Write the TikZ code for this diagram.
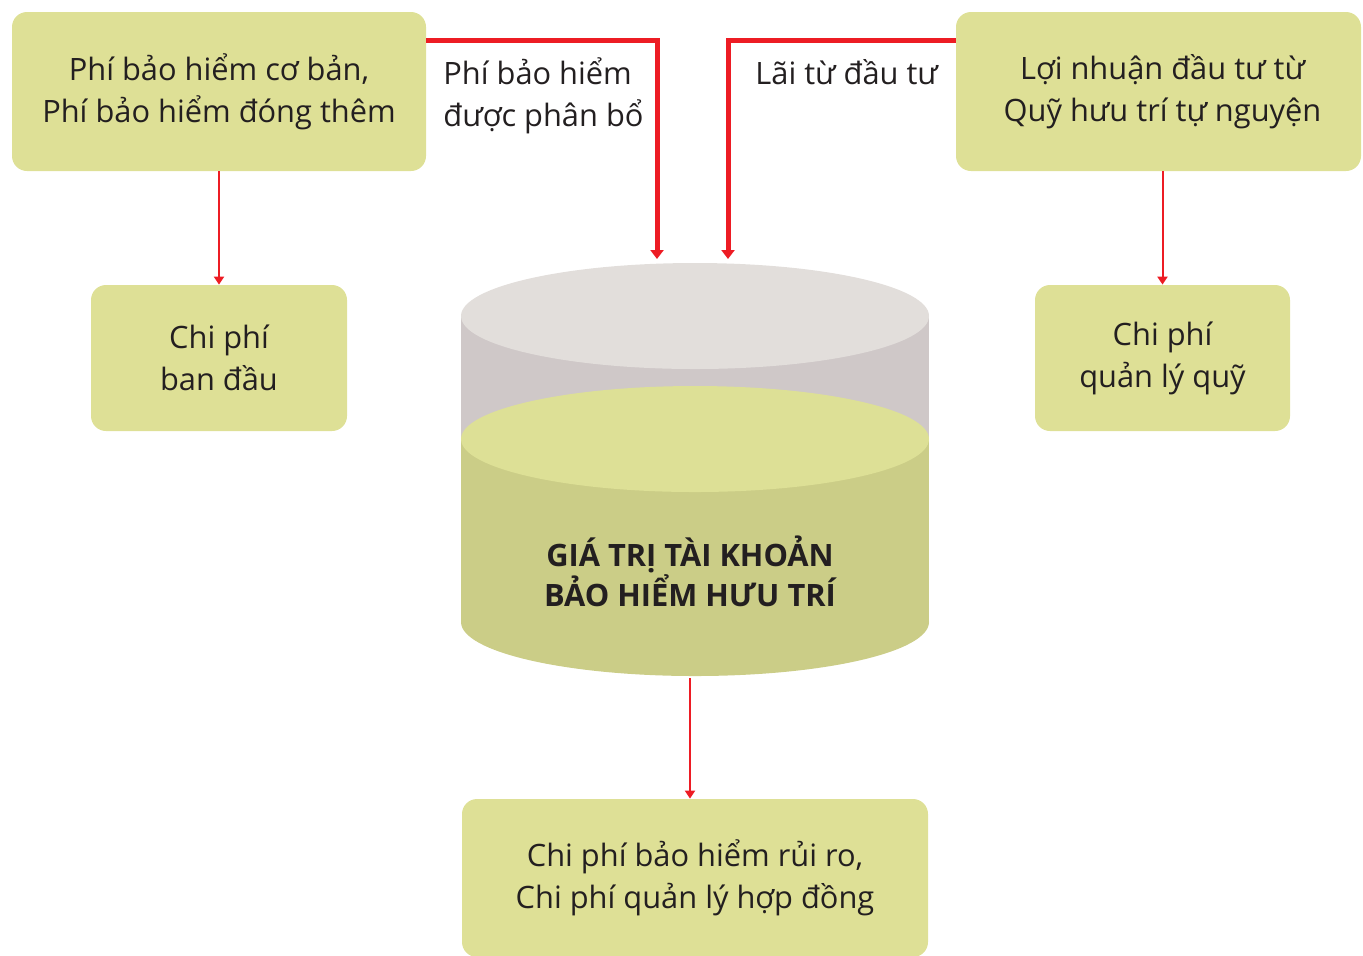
\documentclass[tikz,border=0pt]{standalone}
\usepackage{fontspec}
\setmainfont{Open Sans}
\usetikzlibrary{arrows.meta}
\definecolor{boxfill}{HTML}{DEE096}
\definecolor{txt}{HTML}{231F20}
\definecolor{redline}{HTML}{ED1C24}
\definecolor{graytop}{HTML}{E2DEDB}
\definecolor{graybody}{HTML}{CFC8C8}
\definecolor{greentop}{HTML}{DDE096}
\definecolor{greenbody}{HTML}{CBCD87}
\tikzset{
  box/.style={fill=boxfill, rounded corners=7.5pt, align=center, text=txt,
    font=\fontsize{15.4}{21}\selectfont, inner sep=0pt},
  lbl/.style={text=txt, font=\fontsize{15.4}{21}\selectfont, inner sep=0pt, anchor=base west},
  title/.style={text=txt, align=center, font=\bfseries\fontsize{15.4}{20}\selectfont, inner sep=0pt},
  thickarrow/.style={draw=redline, line width=2.5pt, -{Triangle[width=6.5pt,length=4.5pt]}},
  thinarrow/.style={draw=redline, line width=1pt, -{Triangle[width=5pt,length=4pt]}}
}
\begin{document}
\begin{tikzpicture}[x=0.5pt,y=-0.5pt]
\useasboundingbox (0,0) rectangle (1363,955);
\clip (0,0) rectangle (1363,955);
% boxes
\node[box, minimum width=207pt, minimum height=79.5pt] (b1) at (219,91.5) {Phí bảo hiểm cơ bản,\\Phí bảo hiểm đóng thêm};
\node[box, minimum width=128pt, minimum height=73pt] (b2) at (219,358) {Chi phí\\ban đầu};
\node[box, minimum width=202.5pt, minimum height=79.5pt] (b3) at (1158.5,91.5) {\hspace*{4pt}Lợi nhuận đầu tư từ\\\hspace*{4pt}Quỹ hưu trí tự nguyện};
\node[box, minimum width=127.5pt, minimum height=73pt] (b4) at (1162.5,358) {Chi phí\\quản lý quỹ};
\node[box, minimum width=233pt, minimum height=79pt] (b5) at (695,878) {Chi phí bảo hiểm rủi ro,\\Chi phí quản lý hợp đồng};
% cylinder
\fill[graybody] (461,316) rectangle (929,439);
\fill[graytop] (695,316) ellipse [x radius=234, y radius=53];
\fill[greenbody] (695,622) ellipse [x radius=234, y radius=54];
\fill[greenbody] (461,439) rectangle (929,622);
\fill[greentop] (695,439) ellipse [x radius=234, y radius=53];
\node[title] (cyl) at (690,571) {GIÁ TRỊ TÀI KHOẢN\\BẢO HIỂM HƯU TRÍ};
\coordinate (inA) at (657,259);
\coordinate (inB) at (728,259);
\coordinate (cylbot) at (690,678);
% labels
\node[lbl] (l1) at (443,84) {Phí bảo hiểm};
\node[lbl] (l2) at (443,126) {được phân bổ};
\node[lbl] (l3) at (755,84) {Lãi từ đầu tư};
% connectors
\draw[thickarrow] (b1.east |- 0,40) -| (inA);
\draw[thickarrow] (b3.west |- 0,40) -| (inB);
\draw[thinarrow] (b1.south) -- (b2.north);
\draw[thinarrow] (b4.north |- b3.south) -- (b4.north);
\draw[thinarrow] (cylbot) -- (cylbot |- b5.north);
\end{tikzpicture}
\end{document}
